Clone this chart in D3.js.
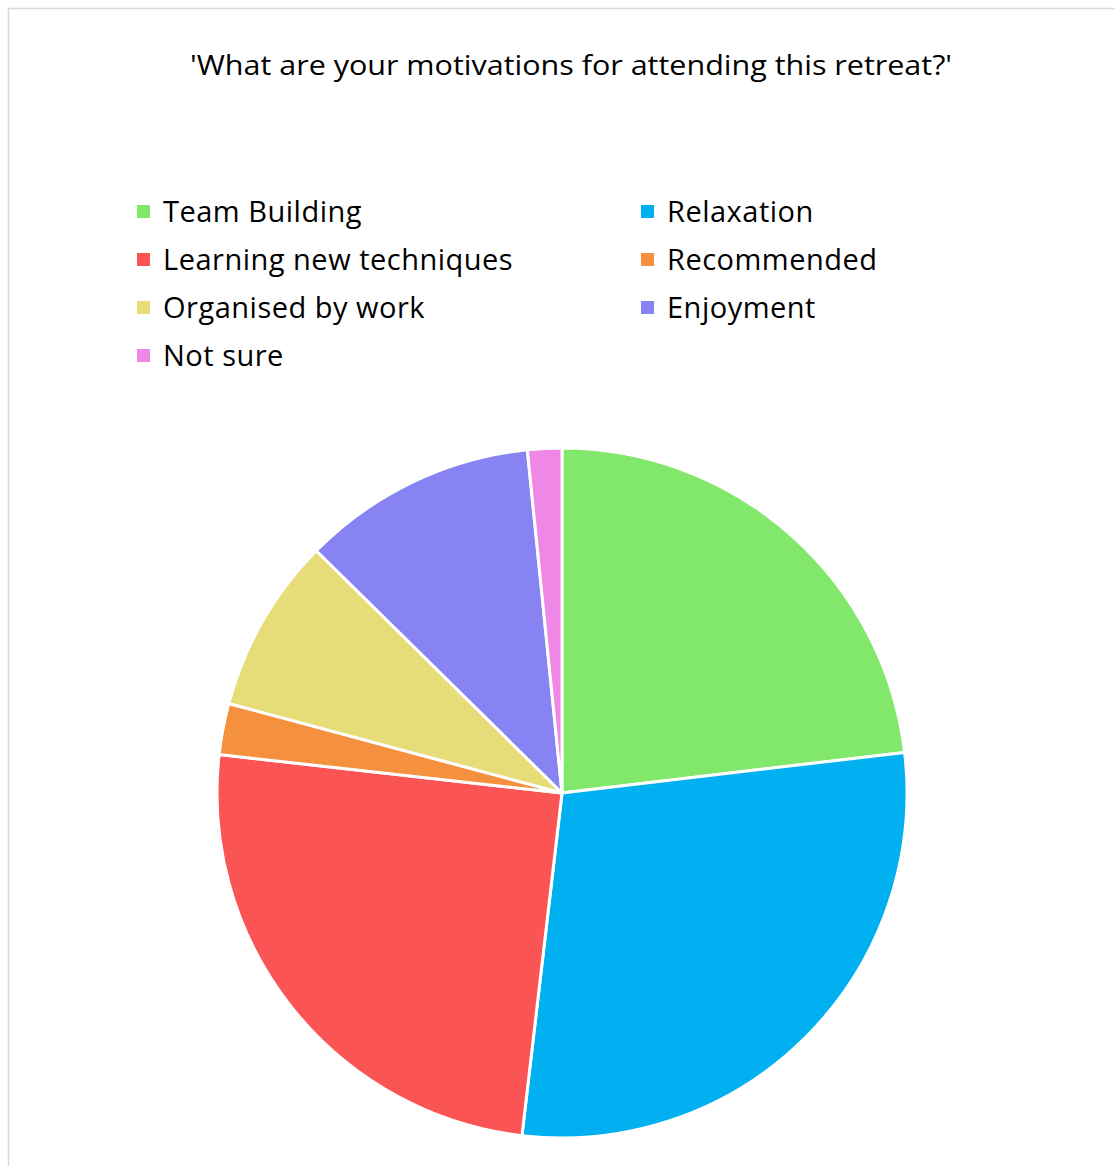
<!DOCTYPE html>
<html>
<head>
<meta charset="utf-8">
<script src="https://cdn.jsdelivr.net/npm/d3@7"></script>
<style>
  html, body { margin: 0; padding: 0; background: #fff; }
  svg { display: block; }
  text { font-family: "Open Sans", Lato, sans-serif; fill: #000; }
</style>
</head>
<body>
<svg id="chart" width="1115" height="1166"></svg>
<script>
// Survey responses: share of answers per motivation (%)
const categories = ["Team Building", "Relaxation", "Learning new techniques", "Recommended",
                    "Organised by work", "Enjoyment", "Not sure"];
const values = [23.1, 28.7, 24.9, 2.4, 8.2, 11.0, 1.6];
const colors = ["#82E86B", "#00B0F0", "#FB5455", "#F5913E", "#E6DD78", "#8783F2", "#EE87E6"];
const title = "'What are your motivations for attending this retreat?'";

const svg = d3.select("#chart");
const W = 1115, H = 1166;

// outer chart frame
svg.append("rect")
  .attr("x", 8.5).attr("y", 8.5)
  .attr("width", W + 20).attr("height", H + 20)
  .attr("fill", "#fff").attr("stroke", "#d9d9d9").attr("stroke-width", 1.5);

// title
svg.append("text")
  .attr("x", 571).attr("y", 75)
  .attr("text-anchor", "middle")
  .attr("font-size", 27)
  .attr("textLength", 762)
  .attr("lengthAdjust", "spacingAndGlyphs")
  .text(title);

// legend: two columns, filled row by row
const legendCols = [137, 641];
const legendRow0 = 205, legendStep = 48;
const legend = svg.append("g");
categories.forEach((c, i) => {
  const col = i % 2, row = Math.floor(i / 2);
  const g = legend.append("g")
    .attr("transform", `translate(${legendCols[col]},${legendRow0 + row * legendStep})`);
  g.append("rect").attr("width", 13).attr("height", 13).attr("fill", colors[i]);
  g.append("text").attr("x", 26).attr("y", 17)
    .attr("font-size", 29).attr("letter-spacing", 0.5).text(c);
});

// pie
const cx = 562, cy = 793, r = 345;
const pie = d3.pie().sort(null).value(d => d.v);
const arc = d3.arc().innerRadius(0).outerRadius(r);
const data = categories.map((c, i) => ({ c, v: values[i], col: colors[i] }));

svg.append("g")
  .attr("transform", `translate(${cx},${cy})`)
  .selectAll("path")
  .data(pie(data))
  .join("path")
  .attr("d", arc)
  .attr("fill", d => d.data.col)
  .attr("stroke", "#fff")
  .attr("stroke-width", 3)
  .attr("stroke-linejoin", "round");
</script>
</body>
</html>
